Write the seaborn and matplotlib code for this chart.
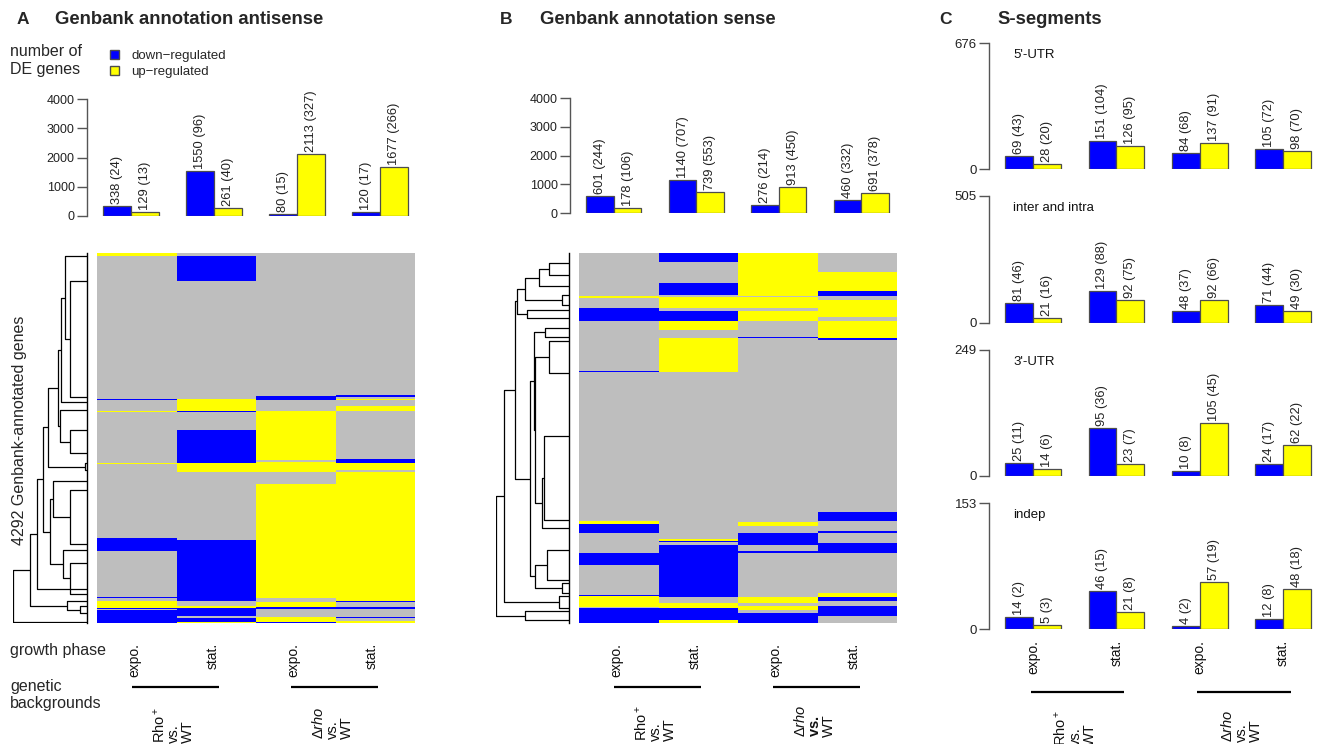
import numpy as np
import pandas as pd
import matplotlib
matplotlib.use('Agg')
import matplotlib.pyplot as plt
import seaborn as sns
from matplotlib.colors import ListedColormap
from matplotlib.patches import Patch

sns.set_style('white')
plt.rcParams['font.family'] = ['Liberation Sans', 'DejaVu Sans']
plt.rcParams['mathtext.fontset'] = 'custom'
plt.rcParams['mathtext.rm'] = 'Liberation Sans'
plt.rcParams['mathtext.it'] = 'Liberation Sans:italic'
plt.rcParams['mathtext.bf'] = 'Liberation Sans:bold'

BLUE = '#0000FF'
YELLOW = '#FFFF00'
GREY = '#BEBEBE'
EDGE = '#4D4D4D'
AXC = '#555555'

# ---------------- data ----------------
conditions = ['Rho+ expo', 'Rho+ stat', 'drho expo', 'drho stat']
phase_labels = ['expo.', 'stat.', 'expo.', 'stat.']
n_genes = 4292

# A : Genbank annotation antisense
antisense_down = [338, 1550, 80, 120]
antisense_down_sub = [24, 96, 15, 17]
antisense_up = [129, 261, 2113, 1677]
antisense_up_sub = [13, 40, 327, 266]

# B : Genbank annotation sense
sense_down = [601, 1140, 276, 460]
sense_down_sub = [244, 707, 214, 332]
sense_up = [178, 739, 913, 691]
sense_up_sub = [106, 553, 450, 378]

# C : S-segments
seg_names = ["5'-UTR", 'inter and intra', "3'-UTR", 'indep']
seg_max = [676, 505, 249, 153]
utr5_down = [69, 151, 84, 105]
utr5_down_sub = [43, 104, 68, 72]
utr5_up = [28, 126, 137, 98]
utr5_up_sub = [20, 95, 91, 70]
inter_down = [81, 129, 48, 71]
inter_down_sub = [46, 88, 37, 44]
inter_up = [21, 92, 92, 49]
inter_up_sub = [16, 75, 66, 30]
utr3_down = [25, 95, 10, 24]
utr3_down_sub = [11, 36, 8, 17]
utr3_up = [14, 23, 105, 62]
utr3_up_sub = [6, 7, 45, 22]
indep_down = [14, 46, 4, 12]
indep_down_sub = [2, 15, 2, 8]
indep_up = [5, 21, 57, 48]
indep_up_sub = [3, 8, 19, 18]

# heatmap columns, run-length coded (B = down, G = not DE, Y = up), in genes
as_rho_expo_states = "YGBGYGYGBGBGYBGB"
as_rho_expo_sizes = [31, 1666, 8, 128, 8, 593, 8, 860, 155, 528, 15, 35, 80, 12, 12, 153]
as_rho_stat_states = "GBGYBGBYGBGYBGBY"
as_rho_stat_sizes = [31, 298, 1368, 132, 15, 209, 380, 105, 794, 705, 62, 15, 101, 15, 50, 12]
as_drho_expo_states = "GBGYGYGYGYBGYB"
as_drho_expo_sizes = [1660, 46, 128, 569, 19, 116, 147, 1313, 50, 58, 23, 93, 58, 12]
as_drho_stat_states = "GBGYGYGBYGYBGBGBGY"
as_drho_stat_sizes = [1642, 27, 19, 19, 70, 58, 550, 50, 85, 19, 1499, 15, 54, 20, 96, 10, 36, 23]

s_rho_expo_states = "GYGBGBGYBGBGBYGB"
s_rho_expo_sizes = [495, 27, 116, 147, 588, 12, 1728, 27, 108, 232, 135, 348, 19, 124, 12, 174]
s_rho_stat_states = "BGBGYGBYGYGYBGBGYBY"
s_rho_stat_sizes = [108, 240, 135, 27, 128, 39, 108, 104, 97, 394, 1934, 23, 19, 27, 607, 70, 58, 135, 39]
s_drho_expo_states = "YGYGYGBGYGBGBGYGYGB"
s_drho_expo_sizes = [495, 15, 128, 39, 108, 193, 12, 2130, 51, 77, 135, 77, 19, 510, 70, 39, 39, 39, 116]
s_drho_stat_states = "GYBGYGYBGBGBGBGYBGBG"
s_drho_stat_sizes = [224, 220, 50, 46, 201, 43, 201, 19, 2003, 104, 116, 19, 116, 116, 464, 46, 50, 58, 116, 80]

# dendrograms: [height, left, right], leaves are gene positions
A_t1 = [52, 329, 1666]
A_t2 = [67, 39, A_t1]
A_t3 = [77, A_t2, 1724]
A_t4 = [52, 2053, 2324]
A_t5 = [82, 1821, A_t4]
A_t6 = [88, A_t3, A_t5]
A_m1 = [6, 2440, 2520]
A_m2 = [117, A_t6, A_m1]
A_l1 = [52, 2750, 3370]
A_l2 = [102, 2640, A_l1]
A_l3 = [52, 3600, 3950]
A_l4 = [72, 3450, A_l3]
A_l5 = [112, A_l2, A_l4]
A_l6 = [132, A_m2, A_l5]
A_l7 = [150, A_l6, 3900]
A_b1 = [20, 4100, 4180]
A_b2 = [60, 4040, A_b1]
A_b3 = [172, A_l7, A_b2]
tree_antisense = [222, A_b3, 4285]

B_t1 = [62, 116, 251]
B_t2 = [92, B_t1, 387]
B_t3 = [20, 483, 599]
B_t4 = [132, B_t2, B_t3]
B_t5 = [127, 657, 754]
B_t6 = [157, B_t4, B_t5]
B_m1 = [72, 870, 974]
B_m2 = [62, 1025, 1392]
B_m3 = [77, 2127, 3094]
B_m4 = [82, B_m3, 3190]
B_m5 = [102, B_m2, B_m4]
B_m6 = [107, B_m1, B_m5]
B_l1 = [67, 3442, 3790]
B_l2 = [20, 3828, 3944]
B_l3 = [102, B_l1, B_l2]
B_ml = [117, B_m6, B_l3]
B_u = [162, B_t6, B_ml]
B_b1 = [30, 3983, 4118]
B_u2 = [197, B_u, B_b1]
B_b2 = [132, 4157, 4261]
tree_sense = [220, B_u2, B_b2]

# ---------------- layout helpers ----------------
W, H = 1323, 744
fig = plt.figure(figsize=(W / 100, H / 100), dpi=100)


def rect(x0, y0, x1, y1):
    return [x0 / W, 1 - y1 / H, (x1 - x0) / W, (y1 - y0) / H]


def ftext(x, y, s, **kw):
    fig.text(x / W, 1 - y / H, s, **kw)


def bar_panel(ax, down, down_sub, up, up_sub, ymax, yticks, tick_fs):
    df = pd.DataFrame({'cond': conditions * 2,
                       'dir': ['down'] * 4 + ['up'] * 4,
                       'n': down + up})
    sns.barplot(data=df, x='cond', y='n', hue='dir', hue_order=['down', 'up'],
                palette=[BLUE, YELLOW], saturation=1, width=0.67, gap=0,
                edgecolor=EDGE, linewidth=0.9, errorbar=None, legend=False, ax=ax)
    labels = [[f'{a} ({b})' for a, b in zip(down, down_sub)],
              [f'{a} ({b})' for a, b in zip(up, up_sub)]]
    for cont, labs in zip(ax.containers, labels):
        for bar, lab in zip(cont, labs):
            ax.annotate(lab, (bar.get_x() + bar.get_width() / 2, bar.get_height()),
                        xytext=(0, 2), textcoords='offset pixels', rotation=90,
                        ha='center', va='bottom', fontsize=9.3, color='#222222',
                        annotation_clip=False)
    ax.set_xlim(-0.41, 3.42)
    ax.set_ylim(0, ymax)
    ax.set_xticks([])
    ax.set_yticks(yticks)
    ax.set_yticklabels([str(t) for t in yticks])
    ax.tick_params(axis='y', length=7, width=1, color=AXC, labelsize=tick_fs,
                   labelcolor='#222222', left=True, pad=2)
    ax.set_xlabel('')
    ax.set_ylabel('')
    for s in ['top', 'right', 'bottom']:
        ax.spines[s].set_visible(False)
    ax.spines['left'].set_position(('outward', 7))
    ax.spines['left'].set_bounds(0, yticks[-1])
    ax.spines['left'].set_color(AXC)
    ax.spines['left'].set_linewidth(1)
    ax.patch.set_alpha(0)


def heat_panel(ax, cols):
    code = {'B': -1, 'G': 0, 'Y': 1}
    mat = np.column_stack([
        np.repeat([code[c] for c in st], sz)[:n_genes] for st, sz in cols])
    sns.heatmap(mat, cmap=ListedColormap([BLUE, GREY, YELLOW]), vmin=-1.5, vmax=1.5,
                cbar=False, xticklabels=False, yticklabels=False, ax=ax,
                linewidths=0, linecolor='face', rasterized=True)
    ax.set_xlim(0, 4)
    ax.set_ylim(n_genes, 0)


def draw_tree(ax, node):
    if not isinstance(node, list):
        return node, 0
    h, left, right = node
    yl, hl = draw_tree(ax, left)
    yr, hr = draw_tree(ax, right)
    ax.plot([hl, h, h, hr], [yl, yl, yr, yr], color='black', lw=0.9,
            solid_capstyle='butt')
    return (yl + yr) / 2, h


def tree_panel(ax, tree):
    draw_tree(ax, tree)
    ax.set_xlim(tree[0] + 1, 0)
    ax.set_ylim(n_genes, 0)
    ax.set_xticks([])
    ax.set_yticks([])
    for s in ['top', 'left', 'bottom']:
        ax.spines[s].set_visible(False)
    ax.spines['right'].set_color('black')
    ax.spines['right'].set_linewidth(1)
    ax.patch.set_alpha(0)


def bottom_labels(ax, centers, phase_top, line_y, group_top, bold_vs=False):
    ax.set_ylim(H, 630)
    ax.axis('off')
    for c, lab in zip(centers, phase_labels):
        ax.text(c, phase_top, lab, rotation=90, ha='center', va='top', fontsize=10,
                color='#111111')
    sp = centers[1] - centers[0]
    vs = r'$\bf{vs.}$' if bold_vs else 'vs.'
    groups = ['Rho$^+$\nvs.\nWT', 'Δ$\\it{rho}$\n' + vs + '\nWT']
    for i, g in enumerate(groups):
        c0, c1 = centers[2 * i], centers[2 * i + 1]
        ax.plot([c0 - 0.03 * sp, c1 + 0.09 * sp], [line_y, line_y], color='black',
                lw=1.6, solid_capstyle='butt', clip_on=False)
        ax.text((c0 + c1) / 2, group_top, g, rotation=90, ha='center', va='top',
                multialignment='left', fontsize=10.5, linespacing=1.0,
                color='#111111', clip_on=False)


# ---------------- panel A ----------------
ftext(17, 20, 'A', fontsize=12.5, fontweight='bold', va='center')
ftext(55, 20, 'Genbank annotation antisense', fontsize=13.3, fontweight='bold', va='center')
ftext(10, 44, 'number of\nDE genes', fontsize=11.5, va='top', linespacing=1.22)
fig.legend(handles=[Patch(facecolor=BLUE, edgecolor=EDGE, label='down−regulated'),
                    Patch(facecolor=YELLOW, edgecolor=EDGE, label='up−regulated')],
           loc='upper left', bbox_to_anchor=(110 / W, 1 - 50 / H), frameon=False,
           fontsize=9.5, handlelength=0.7, handleheight=0.7, handletextpad=0.9,
           labelspacing=0.3, borderpad=0, borderaxespad=0)

axA = fig.add_axes(rect(97, 99, 415, 216))
bar_panel(axA, antisense_down, antisense_down_sub, antisense_up, antisense_up_sub,
          4000, [0, 1000, 2000, 3000, 4000], 9)

hmA = fig.add_axes(rect(97, 253, 415, 623))
heat_panel(hmA, [(as_rho_expo_states, as_rho_expo_sizes),
                 (as_rho_stat_states, as_rho_stat_sizes),
                 (as_drho_expo_states, as_drho_expo_sizes),
                 (as_drho_stat_states, as_drho_stat_sizes)])
dnA = fig.add_axes(rect(13, 253, 87, 623))
tree_panel(dnA, tree_antisense)
ftext(20, 430, '4292 Genbank-annotated genes', fontsize=11.5, rotation=90,
      ha='center', va='center')

ftext(10, 650, 'growth phase', fontsize=11.5, va='center')
ftext(10, 695, 'genetic\nbackgrounds', fontsize=11.5, va='center', linespacing=1.15)
lbA = fig.add_axes(rect(97, 630, 415, 744))
lbA.set_xlim(0, 4)
bottom_labels(lbA, [0.47, 1.45, 2.47, 3.45], 643, 687, 707)

# ---------------- panel B ----------------
ftext(500, 20, 'B', fontsize=12.5, fontweight='bold', va='center')
ftext(540, 20, 'Genbank annotation sense', fontsize=13.3, fontweight='bold', va='center')
axB = fig.add_axes(rect(580, 98, 896, 213))
bar_panel(axB, sense_down, sense_down_sub, sense_up, sense_up_sub,
          4000, [0, 1000, 2000, 3000, 4000], 9)

hmB = fig.add_axes(rect(579, 253, 897, 623))
heat_panel(hmB, [(s_rho_expo_states, s_rho_expo_sizes),
                 (s_rho_stat_states, s_rho_stat_sizes),
                 (s_drho_expo_states, s_drho_expo_sizes),
                 (s_drho_stat_states, s_drho_stat_sizes)])
dnB = fig.add_axes(rect(496, 253, 569, 623))
tree_panel(dnB, tree_sense)
lbB = fig.add_axes(rect(579, 630, 897, 744))
lbB.set_xlim(0, 4)
bottom_labels(lbB, [0.47, 1.45, 2.47, 3.45], 643, 687, 705, bold_vs=True)

# ---------------- panel C ----------------
ftext(939, 20, 'C', fontsize=12.5, fontweight='bold', va='center')
ftext(997, 20, 'S-segments', fontsize=13.3, fontweight='bold', va='center')
seg_data = [(utr5_down, utr5_down_sub, utr5_up, utr5_up_sub),
            (inter_down, inter_down_sub, inter_up, inter_up_sub),
            (utr3_down, utr3_down_sub, utr3_up, utr3_up_sub),
            (indep_down, indep_down_sub, indep_up, indep_up_sub)]
seg_rows = [(43, 169), (196, 323), (350, 476), (503, 629)]
for (y0, y1), name, ymax, vals in zip(seg_rows, seg_names, seg_max, seg_data):
    ax = fig.add_axes(rect(999, y0, 1318, y1))
    bar_panel(ax, *vals, ymax, [0, ymax], 9.5)
    ax.text(-0.24, 0.905, name, transform=ax.get_xaxis_transform(), fontsize=9.5,
            ha='left', va='center', color='#111111')

lbC = fig.add_axes(rect(999, 630, 1318, 744))
lbC.set_xlim(-0.41, 3.42)
bottom_labels(lbC, [0.0, 1.0, 2.0, 3.0], 640, 692, 710)

fig.savefig('out.png', dpi=100)
